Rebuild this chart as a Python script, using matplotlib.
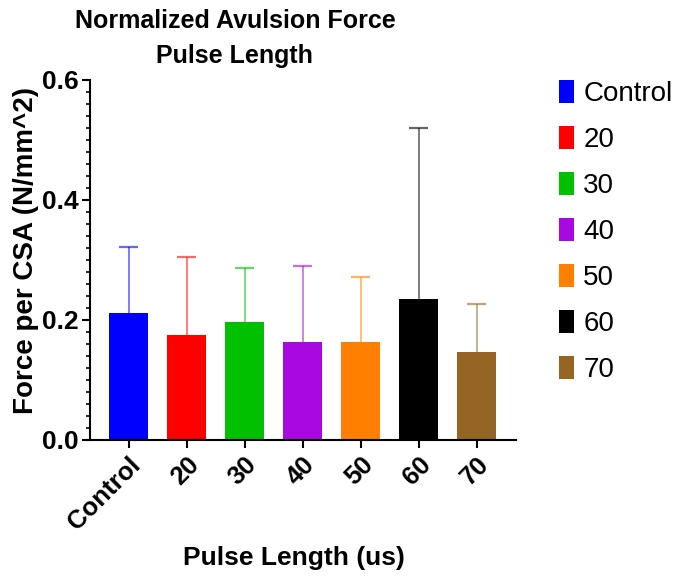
import matplotlib.pyplot as plt
import numpy as np
from matplotlib.patches import Patch
from matplotlib.ticker import MultipleLocator

plt.rcParams['font.family'] = ['Liberation Sans', 'DejaVu Sans']

# Pulse length groups and their mean / upper error values
groups = ["Control", "20", "30", "40", "50", "60", "70"]
means = [0.212, 0.175, 0.196, 0.164, 0.164, 0.235, 0.147]
errors = [0.109, 0.130, 0.090, 0.126, 0.108, 0.285, 0.080]
colors = ["#0000FF", "#FF0000", "#00C000", "#AA08E0", "#FF8000", "#000000", "#966423"]


def draw_chart():
    fig = plt.figure(figsize=(6.75, 5.78), dpi=100)
    ax = fig.add_axes([0.1333, 0.2388, 0.6311, 0.6228])

    x = np.arange(len(groups))
    width = 0.667
    ax.bar(x, means, width=width, color=colors, zorder=2)
    # upward-only error bars in a lighter shade of each bar
    tops = np.array(means) + np.array(errors)
    ax.vlines(x, means, tops, colors=colors, alpha=0.6, linewidth=1.2, zorder=1)
    ax.hlines(tops, x - width / 4, x + width / 4, colors=colors, alpha=0.6,
              linewidth=1.6, zorder=1)

    ax.set_xlim(-0.667, 6.68)
    ax.set_ylim(0, 0.6)
    ax.yaxis.set_major_locator(MultipleLocator(0.2))
    ax.yaxis.set_minor_locator(MultipleLocator(0.02))
    ax.yaxis.set_major_formatter(plt.FuncFormatter(lambda v, p: f"{v:.1f}"))

    for side in ["top", "right"]:
        ax.spines[side].set_visible(False)
    for side in ["left", "bottom"]:
        ax.spines[side].set_linewidth(1.5)

    ax.tick_params(axis="both", which="major", length=6, width=1.5)
    ax.tick_params(axis="y", which="major", labelsize=19, pad=2)
    ax.tick_params(axis="x", which="major", labelsize=18.5, pad=3)
    ax.tick_params(axis="y", which="minor", length=3, width=1.2)
    ax.set_xticks(x)
    ax.set_xticklabels(groups, rotation=45, ha="right", rotation_mode="anchor",
                       fontweight="bold")
    for lbl in ax.get_yticklabels():
        lbl.set_fontweight("bold")

    fig.text(0.348, 0.933, "Normalized Avulsion Force\nPulse Length", ha="center",
             va="center", fontsize=18, fontweight="bold", linespacing=1.6)
    fig.text(0.435, 0.035, "Pulse Length (us)", ha="center", va="center",
             fontsize=19, fontweight="bold")
    fig.text(0.038, 0.567, "Force per CSA (N/mm^2)", ha="center", va="center",
             rotation=90, fontsize=20, fontweight="bold")

    handles = [Patch(facecolor=c, label=g) for g, c in zip(groups, colors)]
    fig.legend(handles=handles, loc="upper left", bbox_to_anchor=(0.828, 0.862),
               frameon=False, fontsize=20, handlelength=0.55, handleheight=0.93,
               handletextpad=0.33, labelspacing=0.67, borderpad=0, borderaxespad=0)

    fig.savefig("out.png", dpi=100)


if __name__ == "__main__":
    draw_chart()
